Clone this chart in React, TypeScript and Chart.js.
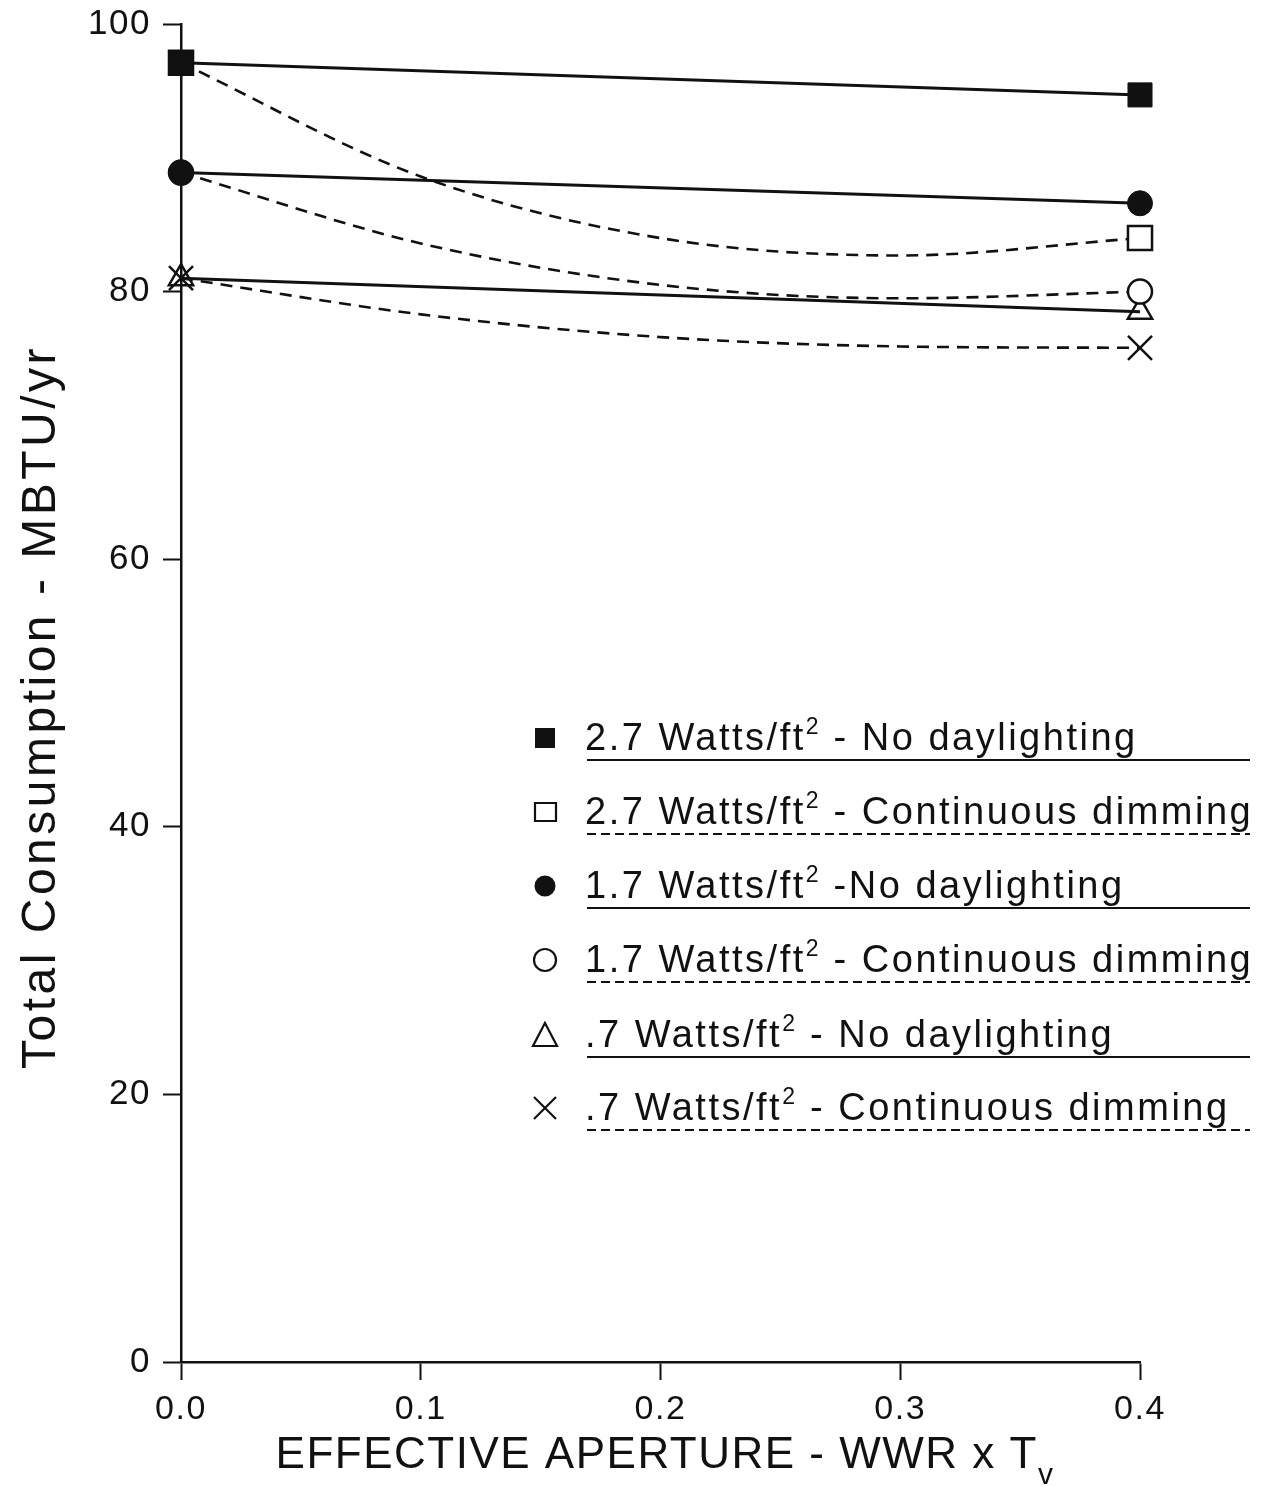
import React, { useEffect, useRef } from "react";
import { Chart, registerables } from "chart.js";

Chart.register(...registerables);

// Effective aperture (WWR x Tv) positions
const apertureEnds = [0, 0.4];
const apertureCurve = [0, 0.1, 0.2, 0.3, 0.4];

// Total consumption, MBTU/yr
const noDaylighting27 = [97.1, 94.7];
const dimming27 = [97.1, 88.6, 84.0, 82.7, 84.0];
const noDaylighting17 = [88.9, 86.6];
const dimming17 = [88.9, 83.6, 80.5, 79.5, 80.0];
const noDaylighting07 = [81.0, 78.5];
const dimming07 = [81.0, 78.3, 76.6, 75.9, 75.8];

const yTickValues = [0, 20, 40, 60, 80, 100];
const xTickValues = [0, 0.1, 0.2, 0.3, 0.4];

const legendRates = ["2.7", "2.7", "1.7", "1.7", ".7", ".7"];
const legendModes = [
  " - No daylighting",
  " - Continuous dimming",
  " -No daylighting",
  " - Continuous dimming",
  " - No daylighting",
  " - Continuous dimming",
];
const legendMarkers = ["squareFilled", "square", "circleFilled", "circle", "triangle", "cross"];
const legendDashed = [false, true, false, true, false, true];

const FONT = '"Liberation Sans", Arial, Helvetica, sans-serif';
const INK = "#111";

function drawMarker(ctx: CanvasRenderingContext2D, kind: string, x: number, y: number) {
  ctx.save();
  ctx.strokeStyle = INK;
  ctx.fillStyle = INK;
  ctx.lineWidth = 2.2;
  ctx.setLineDash([]);
  ctx.beginPath();
  if (kind === "squareFilled") {
    ctx.rect(x - 10, y - 10, 20, 20);
    ctx.fill();
  } else if (kind === "square") {
    ctx.rect(x - 10, y - 9, 21, 18);
    ctx.stroke();
  } else if (kind === "circleFilled") {
    ctx.arc(x, y, 10.5, 0, Math.PI * 2);
    ctx.fill();
  } else if (kind === "circle") {
    ctx.arc(x, y, 11, 0, Math.PI * 2);
    ctx.stroke();
  } else if (kind === "triangle") {
    ctx.moveTo(x, y - 12);
    ctx.lineTo(x + 12, y + 11);
    ctx.lineTo(x - 12, y + 11);
    ctx.closePath();
    ctx.stroke();
  } else {
    ctx.moveTo(x - 11, y - 11);
    ctx.lineTo(x + 11, y + 11);
    ctx.moveTo(x + 11, y - 11);
    ctx.lineTo(x - 11, y + 11);
    ctx.stroke();
  }
  ctx.restore();
}

const decorPlugin = {
  id: "decor",
  beforeDraw(chart: any) {
    (chart.ctx as any).letterSpacing = "1.5px";
  },
  afterDraw(chart: any) {
    const ctx: CanvasRenderingContext2D = chart.ctx;
    const c: any = ctx;
    ctx.save();
    ctx.fillStyle = INK;

    // y-axis title
    ctx.save();
    ctx.translate(42, 707);
    ctx.rotate(-Math.PI / 2);
    c.letterSpacing = "3.5px";
    ctx.font = `48px ${FONT}`;
    ctx.textAlign = "center";
    ctx.textBaseline = "middle";
    ctx.fillText("Total Consumption - MBTU/yr", 0, 0);
    ctx.restore();

    // x-axis title with subscript
    c.letterSpacing = "1.5px";
    ctx.textAlign = "left";
    ctx.textBaseline = "alphabetic";
    ctx.font = `44px ${FONT}`;
    const main = "EFFECTIVE APERTURE - WWR x T";
    const mainW = ctx.measureText(main).width;
    ctx.font = `30px ${FONT}`;
    const subW = ctx.measureText("v").width;
    const startX = 665 - (mainW + subW) / 2;
    ctx.font = `44px ${FONT}`;
    ctx.fillText(main, startX, 1468);
    ctx.font = `30px ${FONT}`;
    ctx.fillText("v", startX + mainW, 1484);

    // legend
    const baselines = [750, 824, 898, 972, 1047, 1120];
    legendRates.forEach((rate, i) => {
      const base = baselines[i];
      drawMarker(ctx, legendMarkers[i], 545, base - 12);
      c.letterSpacing = "2.5px";
      ctx.font = `38px ${FONT}`;
      const head = `${rate} Watts/ft`;
      ctx.fillText(head, 585, base);
      let x = 585 + ctx.measureText(head).width;
      ctx.font = `23px ${FONT}`;
      c.letterSpacing = "0px";
      ctx.fillText("2", x, base - 16);
      x += ctx.measureText("2").width + 2;
      c.letterSpacing = "2.5px";
      ctx.font = `38px ${FONT}`;
      ctx.fillText(legendModes[i], x, base);

      ctx.save();
      ctx.strokeStyle = INK;
      ctx.lineWidth = 2;
      ctx.setLineDash(legendDashed[i] ? [9, 5] : []);
      ctx.beginPath();
      ctx.moveTo(587, base + 10);
      ctx.lineTo(1250, base + 10);
      ctx.stroke();
      ctx.restore();
    });

    ctx.restore();
    c.letterSpacing = "0px";
  },
};

function pts(xs: number[], ys: number[]) {
  return ys.map((y, i) => ({ x: xs[i], y }));
}

export default function App() {
  const canvasRef = useRef<HTMLCanvasElement | null>(null);

  useEffect(() => {
    const canvas = canvasRef.current;
    if (!canvas) return;

    const solid = { borderColor: INK, borderWidth: 3, showLine: true, tension: 0, clip: false };
    const dashed = {
      borderColor: INK,
      borderWidth: 2.6,
      borderDash: [12, 8],
      showLine: true,
      cubicInterpolationMode: "monotone",
      clip: false,
    };
    const ends = (r: number) => dimming27.map((_, i) => (i === 0 || i === dimming27.length - 1 ? r : 0));

    const chart = new Chart(canvas, {
      type: "scatter",
      data: {
        datasets: [
          {
            label: "2.7 Watts/ft² - No daylighting",
            data: pts(apertureEnds, noDaylighting27),
            ...solid,
            pointStyle: "rect",
            pointRadius: 17,
            pointBackgroundColor: INK,
            pointBorderColor: INK,
            pointBorderWidth: 1,
          },
          {
            label: "2.7 Watts/ft² - Continuous dimming",
            data: pts(apertureCurve, dimming27),
            ...dashed,
            pointStyle: "rect",
            pointRadius: ends(17),
            pointBackgroundColor: "#fff",
            pointBorderColor: INK,
            pointBorderWidth: 2.5,
          },
          {
            label: "1.7 Watts/ft² - No daylighting",
            data: pts(apertureEnds, noDaylighting17),
            ...solid,
            pointStyle: "circle",
            pointRadius: 12.5,
            pointBackgroundColor: INK,
            pointBorderColor: INK,
            pointBorderWidth: 1,
          },
          {
            label: "1.7 Watts/ft² - Continuous dimming",
            data: pts(apertureCurve, dimming17),
            ...dashed,
            pointStyle: "circle",
            pointRadius: ends(12),
            pointBackgroundColor: "#fff",
            pointBorderColor: INK,
            pointBorderWidth: 2.5,
          },
          {
            label: ".7 Watts/ft² - No daylighting",
            data: pts(apertureEnds, noDaylighting07),
            ...solid,
            pointStyle: "triangle",
            pointRadius: 14,
            pointBackgroundColor: "rgba(255,255,255,0)",
            pointBorderColor: INK,
            pointBorderWidth: 2.5,
          },
          {
            label: ".7 Watts/ft² - Continuous dimming",
            data: pts(apertureCurve, dimming07),
            ...dashed,
            pointStyle: "crossRot",
            pointRadius: ends(17),
            pointBorderColor: INK,
            pointBorderWidth: 2.5,
          },
        ] as any,
      },
      options: {
        responsive: false,
        animation: false,
        devicePixelRatio: 1,
        events: [],
        clip: false,
        layout: { padding: { left: 0, right: 121, top: 24, bottom: 0 } },
        plugins: {
          legend: { display: false },
          tooltip: { enabled: false },
          title: { display: false },
        },
        scales: {
          x: {
            type: "linear",
            min: 0,
            max: 0.4,
            afterBuildTicks: (scale: any) => {
              scale.ticks = xTickValues.map((v) => ({ value: v }));
            },
            afterFit: (scale: any) => {
              scale.height = 124;
              scale.paddingLeft = 0;
              scale.paddingRight = 0;
            },
            grid: {
              drawOnChartArea: false,
              drawTicks: true,
              tickLength: 18,
              tickWidth: 2,
              tickColor: INK,
            },
            border: { display: true, color: INK, width: 2.5 },
            ticks: {
              autoSkip: false,
              maxRotation: 0,
              padding: 9,
              color: INK,
              font: { family: FONT, size: 34 },
              callback: (v: any) => Number(v).toFixed(1),
            },
          },
          y: {
            type: "linear",
            min: 0,
            max: 100,
            afterBuildTicks: (scale: any) => {
              scale.ticks = yTickValues.map((v) => ({ value: v }));
            },
            afterFit: (scale: any) => {
              scale.width = 181;
              scale.paddingTop = 0;
              scale.paddingBottom = 0;
            },
            grid: {
              drawOnChartArea: false,
              drawTicks: true,
              tickLength: 18,
              tickWidth: 2,
              tickColor: INK,
            },
            border: { display: true, color: INK, width: 2.5 },
            ticks: {
              padding: 12,
              color: INK,
              font: { family: FONT, size: 35 },
              callback: (v: any) => String(v),
            },
          },
        },
      } as any,
      plugins: [decorPlugin],
    });

    return () => chart.destroy();
  }, []);

  return (
    <div style={{ position: "absolute", left: 0, top: 0, width: 1261, height: 1486, background: "#fff" }}>
      <canvas ref={canvasRef} width={1261} height={1486} />
    </div>
  );
}
